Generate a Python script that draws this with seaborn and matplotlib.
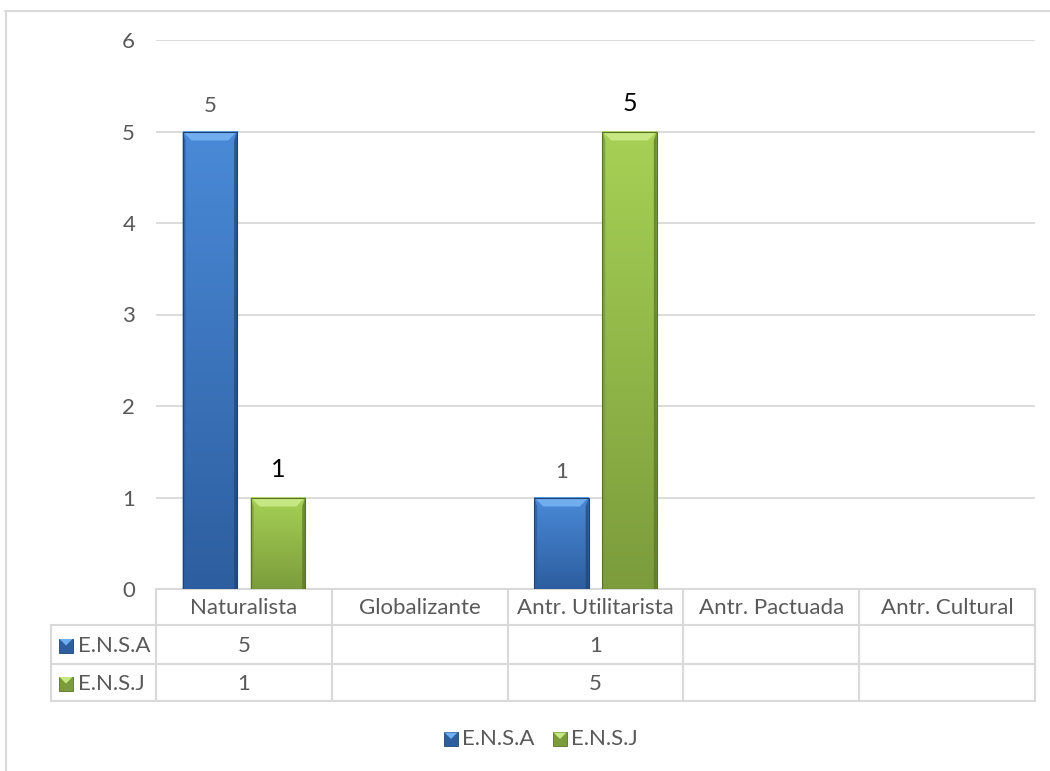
import numpy as np
import pandas as pd
import matplotlib
matplotlib.use("Agg")
import matplotlib.pyplot as plt
import seaborn as sns
from matplotlib.colors import LinearSegmentedColormap
from matplotlib.patches import Polygon, Rectangle
from matplotlib.transforms import blended_transform_factory
from matplotlib.lines import Line2D

# ---- data ----
categories = ["Naturalista", "Globalizante", "Antr. Utilitarista", "Antr. Pactuada", "Antr. Cultural"]
series = ["E.N.S.A", "E.N.S.J"]
ensa_values = [5, np.nan, 1, np.nan, np.nan]
ensj_values = [1, np.nan, 5, np.nan, np.nan]
y_ticks = [0, 1, 2, 3, 4, 5, 6]

# ---- style ----
sns.set_theme(style="white")
plt.rcParams["font.family"] = ["Lato", "DejaVu Sans"]
TXT = "#595959"
GRID = "#d9d9d9"
FS = 16

blue_top, blue_bot, blue_bevel, blue_edge = "#4a8ad8", "#2d5e9f", "#70aef0", "#1f4473"
green_top, green_bot, green_bevel, green_edge = "#a6d155", "#7c9c3c", "#c6e882", "#5a7228"
styles = {
    series[0]: (blue_top, blue_bot, blue_bevel, blue_edge),
    series[1]: (green_top, green_bot, green_bevel, green_edge),
}

df = pd.DataFrame({
    "category": categories * 2,
    "series": [series[0]] * len(categories) + [series[1]] * len(categories),
    "value": ensa_values + ensj_values,
})
df_bars = df.dropna()

W, H = 1050, 771
fig = plt.figure(figsize=(W / 100, H / 100), dpi=100)
fig.patch.set_facecolor("white")

# overlay in pixel units for the chart frame and data table
ov = fig.add_axes([0, 0, 1, 1], zorder=0)
ov.set_xlim(0, W)
ov.set_ylim(H, 0)
ov.axis("off")

# plot area
ax = fig.add_axes([156 / W, 1 - 589 / H, (1035 - 156) / W, 549 / H], zorder=2)
ax.set_facecolor("none")

sns.barplot(data=df_bars, x="category", y="value", hue="series",
            order=categories, hue_order=series,
            palette=[blue_top, green_top], saturation=1,
            width=0.775, gap=0.2, legend=False, ax=ax,
            edgecolor="none", linewidth=0, zorder=3)

ax.set_xlim(-0.5, len(categories) - 0.5)
ax.set_ylim(0, 6)
ax.set_yticks(y_ticks)
ax.set_yticklabels([str(t) for t in y_ticks], color=TXT, fontsize=FS)
ax.tick_params(axis="y", length=0, pad=15)
ax.set_xticks([])
ax.set_xlabel("")
ax.set_ylabel("")
for s in ax.spines.values():
    s.set_visible(False)
ax.yaxis.grid(True, color=GRID, linewidth=1.3, zorder=0)
ax.set_axisbelow(True)

# bevelled bar rendering
px_x = len(categories) / (1035 - 156)   # data units per pixel, x
px_y = 6 / 549                            # data units per pixel, y
bars = [p for p in ax.patches if isinstance(p, Rectangle) and p.get_height() > 0]
bar_info = []
for p in bars:
    x0, w, h = p.get_x(), p.get_width(), p.get_height()
    xc = x0 + w / 2
    cat_idx = int(round(xc))
    ser = series[0] if xc < cat_idx else series[1]
    top, bot, bev, edge = styles[ser]
    p.set_alpha(0)
    cmap = LinearSegmentedColormap.from_list("g", [bot, top])
    grad = np.linspace(0, 1, 256).reshape(-1, 1)
    ax.imshow(grad, extent=[x0, x0 + w, 0, h], origin="lower", aspect="auto",
              cmap=cmap, zorder=3, interpolation="bilinear")
    bx, by = 9 * px_x, 9 * px_y
    sx = 3 * px_x
    ax.add_patch(Polygon([(x0, h), (x0 + w, h), (x0 + w - bx, h - by), (x0 + bx, h - by)],
                         closed=True, facecolor=bev, edgecolor="none", zorder=4))
    ax.add_patch(Polygon([(x0, 0), (x0, h), (x0 + sx, h - by), (x0 + sx, 0)],
                         closed=True, facecolor=bot, edgecolor="none", alpha=0.8, zorder=4))
    ax.add_patch(Polygon([(x0 + w, 0), (x0 + w, h), (x0 + w - sx, h - by), (x0 + w - sx, 0)],
                         closed=True, facecolor=edge, edgecolor="none", alpha=0.7, zorder=4))
    ax.add_patch(Rectangle((x0, 0), w, h, facecolor="none", edgecolor=edge,
                           linewidth=0.8, zorder=5))
    bar_info.append((xc, h, ser))

ax.set_xlim(-0.5, len(categories) - 0.5)
ax.set_ylim(0, 6)

# value labels
for xc, h, ser in bar_info:
    if ser == series[0]:
        ax.annotate(f"{h:g}", (xc, h), xytext=(0, 18), textcoords="offset points",
                    ha="center", va="center", color=TXT, fontsize=FS)
    else:
        ax.annotate(f"{h:g}", (xc, h), xytext=(0, 20), textcoords="offset points",
                    ha="center", va="center", color="black", fontsize=FS + 2)

# chart frame
ov.add_line(Line2D([5.5, 5.5], [11, H], color=GRID, linewidth=1.5))
ov.add_line(Line2D([5, W], [11, 11], color=GRID, linewidth=1.5))

# data table below the axis (x in category units, y in pixels)
tr = blended_transform_factory(ax.transData, ov.transData)
n = len(categories)
label_left = -0.5 - (156 - 51) * px_x
row_y = [589, 625, 664, 701]
lk = dict(color=GRID, linewidth=1.5, transform=tr, clip_on=False, zorder=1)
ax.add_line(Line2D([-0.5, n - 0.5], [row_y[0], row_y[0]], **lk))
for yy in row_y[1:]:
    ax.add_line(Line2D([label_left, n - 0.5], [yy, yy], **lk))
ax.add_line(Line2D([label_left, label_left], [row_y[1], row_y[3]], **lk))
for k in range(n + 1):
    ax.add_line(Line2D([k - 0.5, k - 0.5], [row_y[0], row_y[3]], **lk))

for i, c in enumerate(categories):
    ax.text(i, (row_y[0] + row_y[1]) / 2 + 1, c, transform=tr, ha="center", va="center",
            color=TXT, fontsize=FS, clip_on=False)

rows = [(series[0], ensa_values), (series[1], ensj_values)]
for r, (name, vals) in enumerate(rows):
    yc = (row_y[r + 1] + row_y[r + 2]) / 2 + 1
    for i, v in enumerate(vals):
        if not np.isnan(v):
            ax.text(i, yc, f"{v:g}", transform=tr, ha="center", va="center",
                    color=TXT, fontsize=FS, clip_on=False)
    top, bot, bev, edge = styles[name]
    ov.add_patch(Rectangle((59, yc - 7), 14, 14, facecolor=bot, edgecolor=edge, linewidth=0.6))
    ov.add_patch(Polygon([(59.5, yc - 6.5), (72.5, yc - 6.5), (66, yc)], closed=True,
                         facecolor=bev, edgecolor="none"))
    ov.text(78, yc, name, ha="left", va="center", color=TXT, fontsize=FS)

# legend
leg_y = 739
for (name, x_sq) in [(series[0], 444), (series[1], 553)]:
    top, bot, bev, edge = styles[name]
    ov.add_patch(Rectangle((x_sq, leg_y - 7), 14, 14, facecolor=bot, edgecolor=edge, linewidth=0.6))
    ov.add_patch(Polygon([(x_sq + 0.5, leg_y - 6.5), (x_sq + 13.5, leg_y - 6.5), (x_sq + 7, leg_y)],
                         closed=True, facecolor=bev, edgecolor="none"))
    ov.text(x_sq + 18, leg_y, name, ha="left", va="center", color=TXT, fontsize=FS)

fig.savefig("out.png", dpi=100, facecolor="white")
